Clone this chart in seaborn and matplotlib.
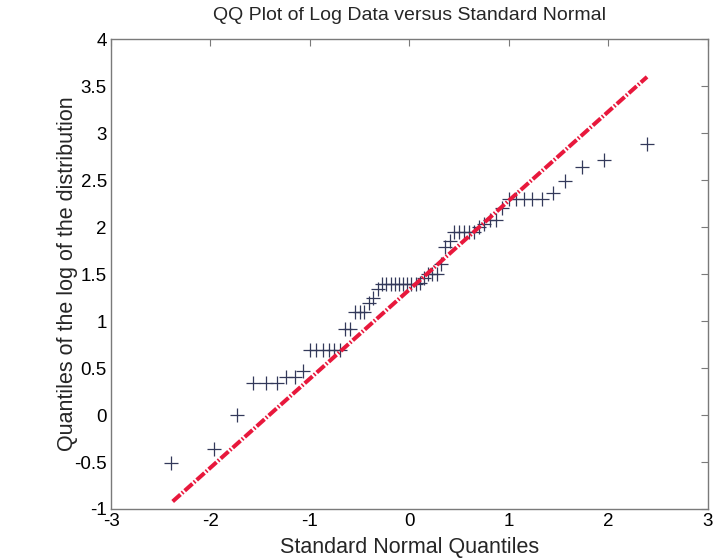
import matplotlib
matplotlib.use("Agg")
import matplotlib.pyplot as plt
import seaborn as sns
import pandas as pd
from statistics import NormalDist

# Sorted sample quantiles of the log-transformed data
sample_quantiles = [
    -0.51, -0.36, 0.00, 0.34, 0.34, 0.34, 0.41, 0.41, 0.47,
    0.69, 0.69, 0.69, 0.69, 0.69, 0.69, 0.92, 0.92,
    1.10, 1.10, 1.10, 1.19, 1.25, 1.34,
    1.39, 1.39, 1.39, 1.39, 1.39, 1.39, 1.39, 1.39, 1.39,
    1.41, 1.46, 1.50, 1.50, 1.50, 1.61, 1.79, 1.85,
    1.95, 1.95, 1.95, 1.95, 1.95,
    2.00, 2.03, 2.08, 2.08, 2.20,
    2.30, 2.30, 2.30, 2.30, 2.30,
    2.36, 2.49, 2.64, 2.71, 2.89,
]

# Reference line end points (standard normal quantile, log-data quantile)
ref_x = [-2.38, 2.39]
ref_y = [-0.92, 3.60]

x_ticks = [-3, -2, -1, 0, 1, 2, 3]
y_ticks = [-1, -0.5, 0, 0.5, 1, 1.5, 2, 2.5, 3, 3.5, 4]
y_tick_labels = ["-1", "-0.5", "0", "0.5", "1", "1.5", "2", "2.5", "3", "3.5", "4"]

# Theoretical standard normal quantiles at plotting positions (i - 0.5) / n
n = len(sample_quantiles)
std_normal = NormalDist()
theoretical = [std_normal.inv_cdf((i + 0.5) / n) for i in range(n)]

qq = pd.DataFrame({"theoretical": theoretical, "sample": sample_quantiles})
ref = pd.DataFrame({"x": ref_x, "y": ref_y})

sns.set_style("white")
plt.rcParams["font.family"] = ["Liberation Sans", "DejaVu Sans"]
plt.rcParams["axes.unicode_minus"] = False

fig = plt.figure(figsize=(7.19, 5.60), dpi=100)
ax = fig.add_axes([0.1544, 0.0911, 0.8299, 0.8387])

sns.scatterplot(data=qq, x="theoretical", y="sample", marker="+", s=110,
                color="#33395a", linewidth=0.9, ax=ax, zorder=2)
sns.lineplot(data=ref, x="x", y="y", color="#e8183c", linewidth=2.9,
             dashes=False, ax=ax, zorder=3, estimator=None, sort=False)
ax.lines[-1].set_dashes((2.6, 0.5, 0.4, 0.5))

ax.set_xlim(-3, 3)
ax.set_ylim(-1, 4)
ax.set_xticks(x_ticks)
ax.set_xticklabels([str(t) for t in x_ticks])
ax.set_yticks(y_ticks)
ax.set_yticklabels(y_tick_labels)

for spine in ax.spines.values():
    spine.set_visible(True)
    spine.set_color("#7a7a7a")
    spine.set_linewidth(1.0)

ax.tick_params(direction="in", top=True, right=True, length=5, width=0.8,
               color="#7a7a7a", labelsize=13.5, labelcolor="black", pad=3)

ax.set_xlabel("Standard Normal Quantiles", fontsize=15.5, labelpad=5)
ax.set_ylabel("Quantiles of the log of the distribution", fontsize=15.5)
ax.yaxis.set_label_coords(-0.056, 0.5)
ax.set_title("QQ Plot of Log Data versus Standard Normal", fontsize=14, pad=14)

fig.savefig("out.png", dpi=100, facecolor="white")
